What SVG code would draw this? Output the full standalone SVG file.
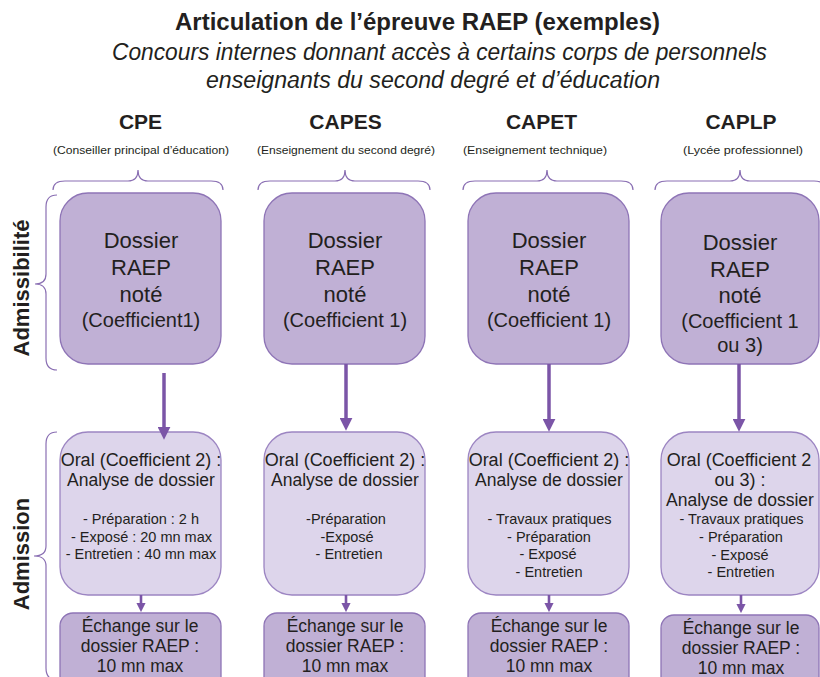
<svg xmlns="http://www.w3.org/2000/svg" width="820" height="677" viewBox="0 0 820 677">
<style>
text{font-family:"Liberation Sans",Arial,sans-serif;fill:#231f20;text-anchor:middle}
.title{font-size:23px;font-weight:bold}
.sub{font-size:23px;font-style:italic}
.hd{font-size:21px;font-weight:bold}
.hs{font-size:11.5px}
.side{font-size:22px;font-weight:bold}
.big{font-size:22px}
.coef{font-size:20px}
.oral{font-size:18px}
.ana{font-size:17.5px}
.li{font-size:14.5px}
.ex{font-size:17.5px}
.adm{fill:#c0b0d5;stroke:#8e74b6;stroke-width:1.3}
.ora{fill:#ddd5eb;stroke:#9c85c2;stroke-width:1.3}
.exc{fill:#c0b0d5;stroke:#8e74b6;stroke-width:1.3}
.brace{fill:none;stroke:#8a6fb3;stroke-width:1.2}
.a1{stroke:#7b55a7;stroke-width:3.5;fill:none}
.a2{stroke:#7b55a7;stroke-width:2.6;fill:none}
</style>
<defs>
<marker id="hb" viewBox="0 0 10 10" refX="4" refY="5" markerWidth="13" markerHeight="13" markerUnits="userSpaceOnUse" orient="auto"><path d="M0,0 L10,5 L0,10 z" fill="#7b55a7"/></marker>
<marker id="hs" viewBox="0 0 10 10" refX="3.5" refY="5" markerWidth="9.5" markerHeight="9.5" markerUnits="userSpaceOnUse" orient="auto"><path d="M0,0 L10,5 L0,10 z" fill="#7b55a7"/></marker>
</defs>

<g id="titles">
<text class="title" x="417.5" y="30" textLength="485" lengthAdjust="spacingAndGlyphs">Articulation de l’épreuve RAEP (exemples)</text>
<text class="sub" x="439.5" y="60" textLength="655" lengthAdjust="spacingAndGlyphs">Concours internes donnant accès à certains corps de personnels</text>
<text class="sub" x="433" y="88" textLength="454" lengthAdjust="spacingAndGlyphs">enseignants du second degré et d’éducation</text>
</g>

<g id="headers">
<text class="hd" x="140.5" y="129">CPE</text>
<text class="hs" x="141" y="154" textLength="176" lengthAdjust="spacingAndGlyphs">(Conseiller principal d’éducation)</text>
<text class="hd" x="345.5" y="129">CAPES</text>
<text class="hs" x="346" y="154" textLength="178" lengthAdjust="spacingAndGlyphs">(Enseignement du second degré)</text>
<text class="hd" x="541.5" y="129">CAPET</text>
<text class="hs" x="535" y="154" textLength="144" lengthAdjust="spacingAndGlyphs">(Enseignement technique)</text>
<text class="hd" x="741" y="129">CAPLP</text>
<text class="hs" x="743" y="154" textLength="120" lengthAdjust="spacingAndGlyphs">(Lycée professionnel)</text>
</g>

<g id="braces">
<path class="brace" d="M53,190 Q53,181 65,181 L128,181 Q138,181 138,170 Q138,181 148,181 L211,181 Q223,181 223,190"/>
<path class="brace" d="M258,190 Q258,181 270,181 L335,181 Q345,181 345,170 Q345,181 355,181 L418,181 Q430,181 430,190"/>
<path class="brace" d="M463,190 Q463,181 475,181 L537,181 Q547,181 547,170 Q547,181 557,181 L621,181 Q633,181 633,190"/>
<path class="brace" d="M655,190 Q655,181 667,181 L730,181 Q740,181 740,170 Q740,181 750,181 L814,181 Q826,181 826,190"/>
<path class="brace" d="M57,195 Q46,195 46,207 L46,274 Q46,284 35,284 Q46,284 46,294 L46,358 Q46,370 57,370"/>
<path class="brace" d="M57,432 Q46,432 46,444 L46,546 Q46,556 34,556 Q46,556 46,566 L46,668 Q46,680 57,680"/>
</g>

<g id="side-labels">
<text class="side" transform="translate(29,288) rotate(-90)">Admissibilité</text>
<text class="side" transform="translate(29,554) rotate(-90)">Admission</text>
</g>

<g id="cpe-dossier">
<rect class="adm" x="60" y="193" width="161" height="171" rx="28"/>
<text class="big" x="141" y="248">Dossier</text>
<text class="big" x="141" y="275">RAEP</text>
<text class="big" x="141" y="302">noté</text>
<text class="coef" x="141" y="327">(Coefficient1)</text>
</g>
<g id="capes-dossier">
<rect class="adm" x="264" y="193" width="161" height="171" rx="28"/>
<text class="big" x="345" y="248">Dossier</text>
<text class="big" x="345" y="275">RAEP</text>
<text class="big" x="345" y="302">noté</text>
<text class="coef" x="345" y="327">(Coefficient 1)</text>
</g>
<g id="capet-dossier">
<rect class="adm" x="468" y="193" width="161" height="171" rx="28"/>
<text class="big" x="549" y="248">Dossier</text>
<text class="big" x="549" y="275">RAEP</text>
<text class="big" x="549" y="302">noté</text>
<text class="coef" x="549" y="327">(Coefficient 1)</text>
</g>
<g id="caplp-dossier">
<rect class="adm" x="661" y="193" width="158" height="171" rx="28"/>
<text class="big" x="740" y="250">Dossier</text>
<text class="big" x="740" y="277">RAEP</text>
<text class="big" x="740" y="303">noté</text>
<text class="coef" x="740" y="328">(Coefficient 1</text>
<text class="coef" x="740" y="352">ou 3)</text>
</g>

<g id="cpe-oral">
<rect class="ora" x="60" y="432" width="161" height="163" rx="28"/>
<text class="oral" x="141" y="466">Oral (Coefficient 2) :</text>
<text class="ana" x="141" y="486">Analyse de dossier</text>
<text class="li" x="141" y="524">- Préparation : 2 h</text>
<text class="li" x="141.5" y="541.5">- Exposé : 20 mn max</text>
<text class="li" x="141" y="559">- Entretien : 40 mn max</text>
</g>
<g id="capes-oral">
<rect class="ora" x="264" y="432" width="161" height="163" rx="28"/>
<text class="oral" x="345" y="466">Oral (Coefficient 2) :</text>
<text class="ana" x="345" y="486">Analyse de dossier</text>
<text class="li" x="346" y="524">-Préparation</text>
<text class="li" x="347" y="541.5">-Exposé</text>
<text class="li" x="349" y="559">- Entretien</text>
</g>
<g id="capet-oral">
<rect class="ora" x="468" y="432" width="161" height="163" rx="28"/>
<text class="oral" x="549" y="466">Oral (Coefficient 2) :</text>
<text class="ana" x="549" y="486">Analyse de dossier</text>
<text class="li" x="549.5" y="524">- Travaux pratiques</text>
<text class="li" x="549" y="541.5">- Préparation</text>
<text class="li" x="548" y="559">- Exposé</text>
<text class="li" x="549" y="576.5">- Entretien</text>
</g>
<g id="caplp-oral">
<rect class="ora" x="661" y="432" width="158" height="163" rx="28"/>
<text class="oral" x="739" y="466">Oral (Coefficient 2</text>
<text class="oral" x="740" y="486">ou 3) :</text>
<text class="ana" x="740" y="506">Analyse de dossier</text>
<text class="li" x="741.5" y="524">- Travaux pratiques</text>
<text class="li" x="741" y="542">- Préparation</text>
<text class="li" x="740" y="560">- Exposé</text>
<text class="li" x="741" y="577">- Entretien</text>
</g>

<g id="cpe-echange">
<rect class="exc" x="60" y="613" width="161" height="90" rx="13"/>
<text class="ex" x="140" y="632">Échange sur le</text>
<text class="ex" x="140" y="652">dossier RAEP :</text>
<text class="ex" x="140" y="672">10 mn max</text>
</g>
<g id="capes-echange">
<rect class="exc" x="264" y="613" width="161" height="90" rx="13"/>
<text class="ex" x="345" y="632">Échange sur le</text>
<text class="ex" x="345" y="652">dossier RAEP :</text>
<text class="ex" x="345" y="672">10 mn max</text>
</g>
<g id="capet-echange">
<rect class="exc" x="468" y="613" width="161" height="90" rx="13"/>
<text class="ex" x="549" y="632">Échange sur le</text>
<text class="ex" x="549" y="652">dossier RAEP :</text>
<text class="ex" x="549" y="672">10 mn max</text>
</g>
<g id="caplp-echange">
<rect class="exc" x="661" y="615" width="158" height="90" rx="13"/>
<text class="ex" x="741" y="634">Échange sur le</text>
<text class="ex" x="741" y="654">dossier RAEP :</text>
<text class="ex" x="741" y="674">10 mn max</text>
</g>

<g id="connectors">
<path class="a1" d="M164,373 L164,432" marker-end="url(#hb)"/>
<path class="a1" d="M346,364 L346,423" marker-end="url(#hb)"/>
<path class="a1" d="M549,364 L549,424" marker-end="url(#hb)"/>
<path class="a1" d="M739,364 L739,424" marker-end="url(#hb)"/>
<path class="a2" d="M141,595 L141,606" marker-end="url(#hs)"/>
<path class="a2" d="M346,595 L346,606" marker-end="url(#hs)"/>
<path class="a2" d="M549,595 L549,606" marker-end="url(#hs)"/>
<path class="a2" d="M741,595 L741,607" marker-end="url(#hs)"/>
</g>
</svg>
